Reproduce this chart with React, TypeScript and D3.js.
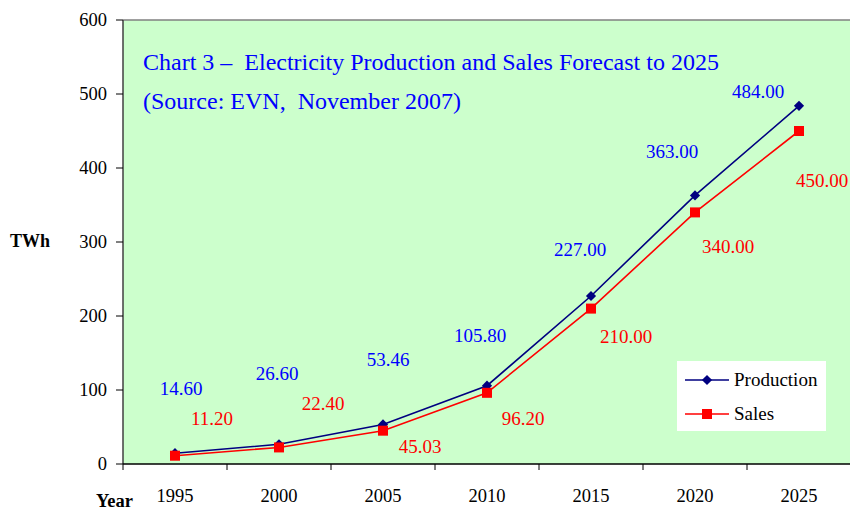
import React from "react";
import * as d3 from "d3";

const years = ["1995", "2000", "2005", "2010", "2015", "2020", "2025"];
const production = [14.6, 26.6, 53.46, 105.8, 227.0, 363.0, 484.0];
const sales = [11.2, 22.4, 45.03, 96.2, 210.0, 340.0, 450.0];
const yTicks = [0, 100, 200, 300, 400, 500, 600];
// label offsets relative to each point (px): [dx, dy]
const prodLabelOffsets: [number, number][] = [[6, -58], [-2, -64], [5, -58], [-7, -44], [-11, -40], [-23, -37], [-41, -8]];
const salesLabelOffsets: [number, number][] = [[37, -31], [44, -37], [37, 22], [36, 32], [35, 34], [33, 41], [23, 56]];

const W = 850, H = 510;
const left = 123, top = 20, right = 851, bottom = 464;
const FONT = "'Liberation Serif', 'Times New Roman', serif";

export default function App() {
  const x = d3.scaleBand<string>().domain(years).range([left, right]);
  const y = d3.scaleLinear().domain([0, 600]).range([bottom, top]);
  const cx = (d: string) => (x(d) as number) + x.bandwidth() / 2;
  const line = d3.line<number>().x((_, i) => cx(years[i])).y((v) => y(v));
  const bounds = years.map((yr) => x(yr) as number).concat([right]);
  const Diamond = ({ px, py }: { px: number; py: number }) => (
    <rect x={-3.6} y={-3.6} width={7.2} height={7.2} fill="#000080" transform={`translate(${px},${py}) rotate(45)`} />
  );

  return (
    <svg width={W} height={H} style={{ display: "block", position: "absolute", left: 0, top: 0 }} fontFamily={FONT}>
      <rect x={0} y={0} width={W} height={H} fill="#ffffff" />
      <rect x={left} y={top} width={right - left} height={bottom - top} fill="#CCFFCC" />
      <line x1={left} x2={W} y1={top} y2={top} stroke="#808080" strokeWidth={1.5} />
      <line x1={left} x2={left} y1={top} y2={bottom} stroke="#404040" strokeWidth={1.5} />
      <line x1={left} x2={W} y1={bottom} y2={bottom} stroke="#000" strokeWidth={1.5} />
      {yTicks.map((t) => (
        <g key={t}>
          <line x1={left - 7} x2={left} y1={y(t)} y2={y(t)} stroke="#000" />
          <text x={107} y={y(t) + 6} textAnchor="end" fontSize={18.5} fill="#000">{t}</text>
        </g>
      ))}
      {bounds.map((b, i) => (
        <line key={i} x1={b} x2={b} y1={bottom} y2={bottom + 6} stroke="#000" />
      ))}
      {years.map((yr) => (
        <text key={yr} x={cx(yr)} y={502} textAnchor="middle" fontSize={18.5} fill="#000">{yr}</text>
      ))}
      <text x={10} y={247} fontSize={18} fontWeight="bold" fill="#000">TWh</text>
      <text x={96} y={507} fontSize={18.5} fontWeight="bold" fill="#000">Year</text>

      <text x={143} y={70} fontSize={24} fill="#0000FF" style={{ whiteSpace: "pre" }}>Chart 3 –  Electricity Production and Sales Forecast to 2025</text>
      <text x={143} y={109} fontSize={24} fill="#0000FF" style={{ whiteSpace: "pre" }}>(Source: EVN,  November 2007)</text>

      <path d={line(production) || ""} fill="none" stroke="#000080" strokeWidth={1.6} />
      <path d={line(sales) || ""} fill="none" stroke="#FF0000" strokeWidth={1.6} />
      {production.map((v, i) => (
        <Diamond key={i} px={cx(years[i])} py={y(v)} />
      ))}
      {sales.map((v, i) => (
        <rect key={i} x={cx(years[i]) - 5} y={y(v) - 5} width={10} height={10} fill="#FF0000" />
      ))}
      {production.map((v, i) => (
        <text key={i} x={cx(years[i]) + prodLabelOffsets[i][0]} y={y(v) + prodLabelOffsets[i][1]} textAnchor="middle" fontSize={19} fill="#0000FF">{v.toFixed(2)}</text>
      ))}
      {sales.map((v, i) => (
        <text key={i} x={cx(years[i]) + salesLabelOffsets[i][0]} y={y(v) + salesLabelOffsets[i][1]} textAnchor="middle" fontSize={19} fill="#FF0000">{v.toFixed(2)}</text>
      ))}

      <g>
        <rect x={677} y={361} width={149} height={70} fill="#ffffff" />
        <line x1={685} x2={729} y1={380} y2={380} stroke="#000080" strokeWidth={1.6} />
        <Diamond px={707} py={380} />
        <text x={734} y={386} fontSize={19} fill="#000">Production</text>
        <line x1={685} x2={729} y1={414} y2={414} stroke="#FF0000" strokeWidth={1.6} />
        <rect x={702} y={409} width={10} height={10} fill="#FF0000" />
        <text x={734} y={420} fontSize={19} fill="#000">Sales</text>
      </g>
    </svg>
  );
}
